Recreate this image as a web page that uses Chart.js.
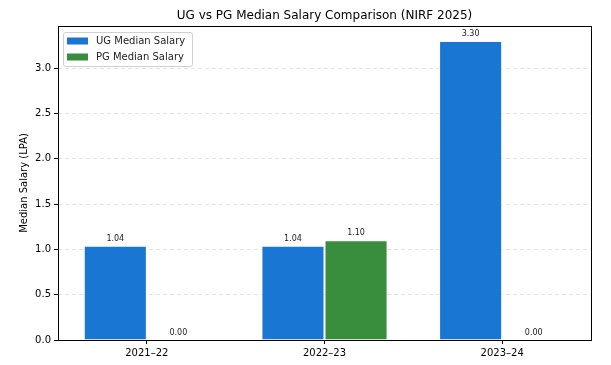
<!DOCTYPE html>
<html>
<head>
<meta charset="utf-8">
<script src="https://cdn.jsdelivr.net/npm/chart.js@4.4.1/dist/chart.umd.min.js"></script>
<style>
html,body{margin:0;padding:0;background:#fff;}
canvas{display:block;}
</style>
</head>
<body>
<canvas id="salaryChart" width="611" height="365"></canvas>
<script>
// NIRF 2025 median salary data
const years = ["2021–22", "2022–23", "2023–24"];
const ugSalary = [1.04, 1.04, 3.30];
const pgSalary = [0.00, 1.10, 0.00];
const yTicks = [0, 0.5, 1.0, 1.5, 2.0, 2.5, 3.0];

const FONT = "'DejaVu Sans', sans-serif";

// value labels above bars
const valueLabels = {
  id: "valueLabels",
  afterDatasetsDraw(chart) {
    const ctx = chart.ctx;
    ctx.save();
    ctx.font = "8px " + FONT;
    ctx.fillStyle = "#222";
    ctx.textAlign = "center";
    ctx.textBaseline = "bottom";
    chart.data.datasets.forEach((ds, i) => {
      chart.getDatasetMeta(i).data.forEach((bar, j) => {
        ctx.fillText(ds.data[j].toFixed(2), bar.x, bar.y - 3);
      });
    });
    ctx.restore();
  }
};

// axes frame, title, y label + legend inside plot
const frameAndLegend = {
  id: "frameAndLegend",
  afterDraw(chart) {
    const ctx = chart.ctx;
    const a = chart.chartArea;
    ctx.save();
    ctx.strokeStyle = "#000";
    ctx.lineWidth = 1;
    ctx.strokeRect(Math.round(a.left) + 0.5, Math.round(a.top) + 0.5,
      Math.round(a.right - a.left), Math.round(a.bottom - a.top));

    // title
    ctx.fillStyle = "#000";
    ctx.font = "12px " + FONT;
    ctx.textAlign = "center";
    ctx.textBaseline = "middle";
    ctx.fillText("UG vs PG Median Salary Comparison (NIRF 2025)", (a.left + a.right) / 2, 16);

    // y label
    ctx.save();
    ctx.translate(24, (a.top + a.bottom) / 2);
    ctx.rotate(-Math.PI / 2);
    ctx.font = "10px " + FONT;
    ctx.fillText("Median Salary (LPA)", 0, 0);
    ctx.restore();

    // legend box
    const lx = a.left + 5, ly = a.top + 6, lw = 129, lh = 34;
    ctx.fillStyle = "rgba(255,255,255,0.8)";
    ctx.strokeStyle = "#d0d0d0";
    ctx.beginPath();
    ctx.roundRect(lx + 0.5, ly + 0.5, lw, lh, 2);
    ctx.fill();
    ctx.stroke();
    ctx.font = "10px " + FONT;
    ctx.textBaseline = "middle";
    ctx.textAlign = "left";
    chart.data.datasets.forEach((ds, i) => {
      const yy = ly + 9 + i * 16;
      ctx.fillStyle = ds.backgroundColor;
      ctx.fillRect(lx + 4, yy - 3.5, 21, 7);
      ctx.fillStyle = "#222";
      ctx.fillText(ds.label, lx + 33, yy + 0.5);
    });
    ctx.restore();
  }
};

new Chart(document.getElementById("salaryChart").getContext("2d"), {
  type: "bar",
  data: {
    labels: years,
    datasets: [
      {
        label: "UG Median Salary",
        data: ugSalary,
        backgroundColor: "#1976D2",
        borderColor: "rgba(255,255,255,0.3)",
        borderWidth: 1,
        categoryPercentage: 0.71,
        barPercentage: 1.0
      },
      {
        label: "PG Median Salary",
        data: pgSalary,
        backgroundColor: "#388E3C",
        borderColor: "rgba(255,255,255,0.3)",
        borderWidth: 1,
        categoryPercentage: 0.71,
        barPercentage: 1.0
      }
    ]
  },
  options: {
    responsive: false,
    animation: false,
    layout: { padding: { left: 0, right: 20, top: 26, bottom: 0 } },
    plugins: {
      legend: { display: false },
      tooltip: { enabled: false },
      title: { display: false }
    },
    scales: {
      x: {
        grid: { display: true, drawOnChartArea: false, drawTicks: true, offset: false,
                tickLength: 4, tickColor: "#000", color: "#000" },
        border: { display: false },
        ticks: { color: "#000", font: { family: FONT, size: 10 }, padding: 3, maxRotation: 0 },
        afterFit(scale) { scale.height = 25; }
      },
      y: {
        min: 0,
        max: 3.465,
        afterBuildTicks(scale) { scale.ticks = yTicks.map(v => ({ value: v })); },
        grid: { color: "#dcdcdc", lineWidth: 0.8, tickLength: 4, tickColor: "#000",
                tickWidth: 1, tickBorderDash: [] },
        border: { display: false, dash: [4, 3] },
        ticks: { color: "#000", font: { family: FONT, size: 10 }, padding: 3,
                 callback: v => Number(v).toFixed(1) },
        afterFit(scale) { scale.width = 58; }
      }
    }
  },
  plugins: [valueLabels, frameAndLegend]
});
</script>
</body>
</html>
